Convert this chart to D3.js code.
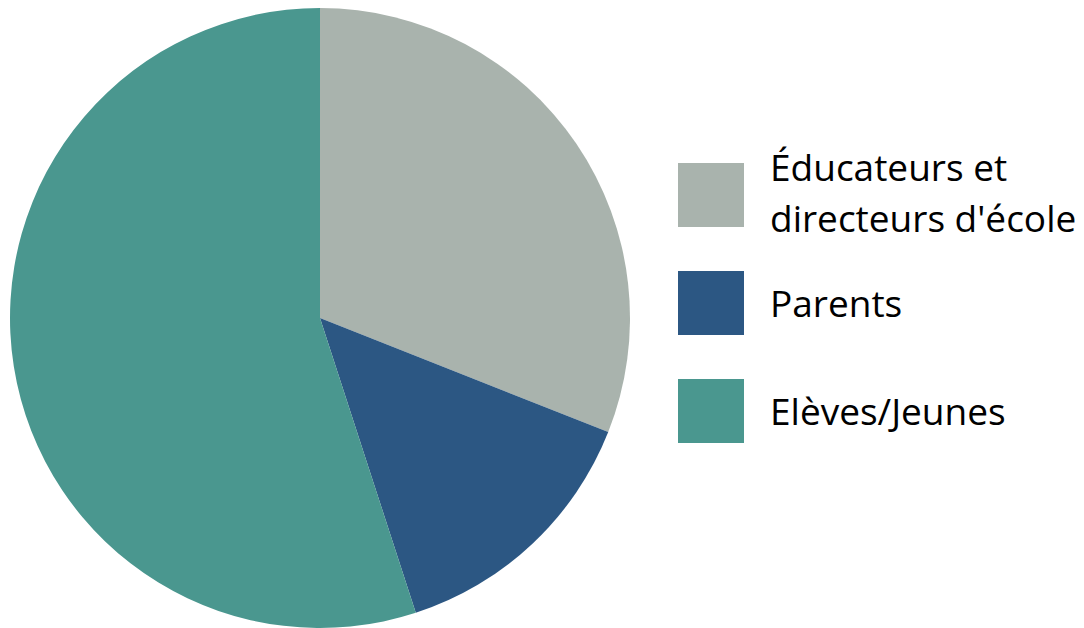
<!DOCTYPE html>
<html>
<head>
<meta charset="utf-8">
<script src="https://cdn.jsdelivr.net/npm/d3@7"></script>
<style>
  body { margin: 0; background: #fff; }
  svg { display: block; }
</style>
</head>
<body>
<div id="chart"></div>
<script>
const categories = ['Éducateurs et directeurs d\'école', 'Parents', 'Elèves/Jeunes']
const labelLines = [['Éducateurs et', 'directeurs d\'école'], ['Parents'], ['Elèves/Jeunes']]
const values = [31, 14, 55]
const colors = ['#A9B3AD', '#2C5783', '#4A978F']

const width = 1084
const height = 628
const cx = 320
const cy = 318
const radius = 310

const svg = d3.select('#chart')
  .append('svg')
  .attr('width', width)
  .attr('height', height)

const color = d3.scaleOrdinal().domain(categories).range(colors)

const pie = d3.pie().sort(null).value(d => d.value)
const arc = d3.arc().innerRadius(0).outerRadius(radius)

const data = categories.map((c, i) => ({ name: c, value: values[i], lines: labelLines[i] }))

svg.append('g')
  .attr('transform', `translate(${cx},${cy})`)
  .selectAll('path')
  .data(pie(data))
  .enter()
  .append('path')
  .attr('d', arc)
  .attr('fill', d => color(d.data.name))

// legend
const legendY = d3.scalePoint().domain(categories).range([195, 411])

const legend = svg.append('g')
  .selectAll('g')
  .data(data)
  .enter()
  .append('g')
  .attr('transform', d => `translate(678,${legendY(d.name)})`)

legend.append('rect')
  .attr('x', 0)
  .attr('y', -32)
  .attr('width', 66)
  .attr('height', 64)
  .attr('fill', d => color(d.name))

legend.append('text')
  .attr('x', 92)
  .attr('y', d => d.lines.length > 1 ? -14 : 14)
  .style('font-family', '"Open Sans", sans-serif')
  .style('font-size', '37px')
  .style('fill', '#000')
  .selectAll('tspan')
  .data(d => d.lines)
  .enter()
  .append('tspan')
  .attr('x', 92)
  .attr('dy', (d, i) => i === 0 ? 0 : 51)
  .text(d => d)
</script>
</body>
</html>
